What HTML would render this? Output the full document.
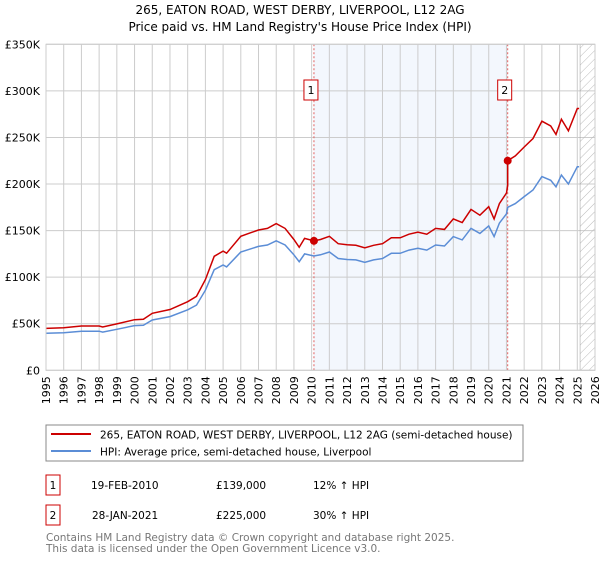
<!DOCTYPE html>
<html><head><meta charset="utf-8"><style>
body{margin:0;background:#fff;font-family:"DejaVu Sans","Liberation Sans",sans-serif;}
svg text{font-family:"DejaVu Sans","Liberation Sans",sans-serif;}
</style></head><body>
<svg id="chart" width="600" height="560" xmlns="http://www.w3.org/2000/svg">
<text x="300" y="14" text-anchor="middle" font-size="12">265, EATON ROAD, WEST DERBY, LIVERPOOL, L12 2AG</text>
<text x="300" y="31" text-anchor="middle" font-size="12">Price paid vs. HM Land Registry's House Price Index (HPI)</text>
<g id="plot"></g>
<rect x="46" y="425" width="477" height="36" fill="#fff" stroke="#888"/>
<line x1="51" y1="434" x2="91" y2="434" stroke="#cc0000" stroke-width="2"/>
<text x="100" y="438.5" font-size="10.5">265, EATON ROAD, WEST DERBY, LIVERPOOL, L12 2AG (semi-detached house)</text>
<line x1="51" y1="451" x2="91" y2="451" stroke="#5b8dd6" stroke-width="2"/>
<text x="100" y="455.5" font-size="10.5">HPI: Average price, semi-detached house, Liverpool</text>
<g font-size="10.5">
<rect x="46" y="475" width="14" height="20" fill="#fff" stroke="#cc0000"/>
<text x="53" y="489" text-anchor="middle">1</text>
<text x="91" y="489">19-FEB-2010</text>
<text x="216" y="489">£139,000</text>
<text x="313" y="489">12% ↑ HPI</text>
</g>
<g font-size="10.5">
<rect x="46" y="505" width="14" height="20" fill="#fff" stroke="#cc0000"/>
<text x="53" y="519" text-anchor="middle">2</text>
<text x="92" y="519">28-JAN-2021</text>
<text x="216" y="519">£225,000</text>
<text x="313" y="519">30% ↑ HPI</text>
</g>
<text x="46" y="541" font-size="10.5" fill="#777">Contains HM Land Registry data © Crown copyright and database right 2025.</text>
<text x="46" y="552" font-size="10.5" fill="#777">This data is licensed under the Open Government Licence v3.0.</text>
</svg>
<script>
const hpiYears=[1995,1996,1997,1998,1998.2,1999,2000,2000.5,2001,2002,2003,2003.5,2004,2004.5,2005,2005.2,2006,2006.5,2007,2007.5,2008,2008.5,2009,2009.3,2009.6,2010.13,2010.5,2011,2011.5,2012,2012.5,2013,2013.5,2014,2014.5,2015,2015.5,2016,2016.5,2017,2017.5,2018,2018.5,2019,2019.5,2020,2020.3,2020.6,2021.0,2021.07,2021.5,2022,2022.5,2023,2023.5,2023.8,2024.1,2024.5,2025,2025.1];
const hpiValues=[39.7,40.4,42,42,41,44,48,48.3,54,57.6,65,70,86,108,113,111,127,130,133,134.5,139,134.5,124,116.6,125,122.7,124,127,120,119,118.5,116,118.5,120,125.6,125.6,129,131,129,134.5,133.5,143.5,140,152.5,147,155,143.5,158,168,175,179,186.5,193.6,208,204,197,209.7,200,218.6,218.6];
const saleYears=[2010.13,2021.07];
const salePrices=[139,225];
const saleLabels=["1","2"];
const yTicks=[0,50,100,150,200,250,300,350];
const yTickLabels=["£0","£50K","£100K","£150K","£200K","£250K","£300K","£350K"];
const xTicks=[1995,1996,1997,1998,1999,2000,2001,2002,2003,2004,2005,2006,2007,2008,2009,2010,2011,2012,2013,2014,2015,2016,2017,2018,2019,2020,2021,2022,2023,2024,2025,2026];

const L=46,R=595,T=44.3,B=370.3;
const xs=y=>L+(y-1995)/(2026-1995)*(R-L);
const ys=v=>B-v/350*(B-T);
const NS="http://www.w3.org/2000/svg";
const g=document.getElementById('plot');
function mk(t,a,p){const e=document.createElementNS(NS,t);for(const k in a)e.setAttribute(k,a[k]);(p||g).appendChild(e);return e;}
// shaded region
let sh=mk('rect',{x:xs(saleYears[0]),y:T,width:xs(saleYears[1])-xs(saleYears[0]),height:B-T,fill:'#eef3fc',opacity:0.7});


// grid
xTicks.forEach(yr=>{const l=mk('line',{x1:xs(yr),x2:xs(yr),y1:T,y2:B,stroke:'#ccc','stroke-width':1});


const t=mk('text',{x:0,y:0,'font-size':11,'text-anchor':'end',transform:`translate(${xs(yr)+4},${B+6}) rotate(-90)`});t.textContent=yr;

});
yTicks.forEach((v,i)=>{const l=mk('line',{x1:L,x2:R,y1:ys(v),y2:ys(v),stroke:'#ccc','stroke-width':1});


const t=mk('text',{x:L-6,y:ys(v)+4,'font-size':11,'text-anchor':'end'});t.textContent=yTickLabels[i];

});
// hatch future
const dataEnd=hpiYears[hpiYears.length-1];
const defs=mk('defs',{});
const pat=mk('pattern',{id:'hatch',width:6,height:6,patternUnits:'userSpaceOnUse',patternTransform:'rotate(45)'},defs);
mk('line',{x1:0,y1:0,x2:0,y2:6,stroke:'#bbb','stroke-width':1},pat);
let hz=mk('rect',{x:xs(dataEnd)+1,y:T,width:R-xs(dataEnd)-1,height:B-T,fill:'url(#hatch)',stroke:'#999','stroke-width':0.5});


// vlines
saleYears.forEach((yr,i)=>{const l=mk('line',{x1:xs(yr),x2:xs(yr),y1:T,y2:B,stroke:'#e06060','stroke-dasharray':'2,2','stroke-width':1});


const r=mk('rect',{x:xs(yr)-10,y:80,width:14,height:20,fill:'#fff',stroke:'#cc0000'});


const t=mk('text',{x:xs(yr)-3,y:94,'font-size':11,'text-anchor':'middle'});t.textContent=saleLabels[i];

});
// hpi line
function hpiAt(yr){for(let i=1;i<hpiYears.length;i++){if(yr<=hpiYears[i]){const f=(yr-hpiYears[i-1])/(hpiYears[i]-hpiYears[i-1]);return hpiValues[i-1]+f*(hpiValues[i]-hpiValues[i-1]);}}return hpiValues[hpiValues.length-1];}
const hp=hpiYears.map((y,i)=>`${xs(y).toFixed(1)},${ys(hpiValues[i]).toFixed(1)}`).join(' ');
let hl=mk('polyline',{points:hp,fill:'none',stroke:'#5b8dd6','stroke-width':1.5});


// property line: HPI-indexed from sales
const f1=salePrices[0]/hpiAt(saleYears[0]), f2=salePrices[1]/hpiAt(saleYears[1]);
const pts=[];
hpiYears.forEach((y,i)=>{
 if(y<saleYears[1]) pts.push([y,hpiValues[i]*f1]);
 else { if(pts.length&&pts[pts.length-1][0]<saleYears[1]){pts.push([saleYears[1],hpiAt(saleYears[1])*f1]);} pts.push([y,hpiValues[i]*f2]); }
});
let pl=mk('polyline',{points:pts.map(p=>`${xs(p[0]).toFixed(1)},${ys(p[1]).toFixed(1)}`).join(' '),fill:'none',stroke:'#cc0000','stroke-width':1.5});


saleYears.forEach((yr,i)=>{const c=mk('circle',{cx:xs(yr),cy:ys(salePrices[i]),r:4,fill:'#cc0000'});

});
// axis frame
let ax=mk('rect',{x:L,y:T,width:R-L,height:B-T,fill:'none',stroke:'#ccc'});


</script>
</body></html>
